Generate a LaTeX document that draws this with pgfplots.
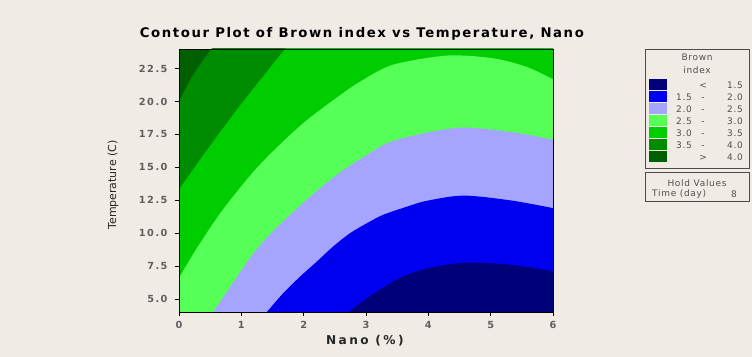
\documentclass[border=0pt]{standalone}
\usepackage{pgfplots}
\pgfplotsset{compat=1.18}
\usepackage{fontspec}
\setmainfont{DejaVu Sans}
\newfontfamily\titlefont[LetterSpace=12]{DejaVu Sans}
\newfontfamily\tickfont[LetterSpace=15]{DejaVu Sans}
\newfontfamily\labfont[LetterSpace=20]{DejaVu Sans}
\newfontfamily\legfont[LetterSpace=8]{DejaVu Sans}
\definecolor{bg}{RGB}{240,235,229}
\definecolor{c1}{RGB}{0,0,120}
\definecolor{c2}{RGB}{0,0,240}
\definecolor{c3}{RGB}{165,165,255}
\definecolor{c4}{RGB}{85,255,85}
\definecolor{c5}{RGB}{0,205,0}
\definecolor{c6}{RGB}{0,140,0}
\definecolor{c7}{RGB}{0,95,0}
\definecolor{tickgray}{RGB}{95,95,95}
\definecolor{legtext}{RGB}{80,80,80}
\begin{document}
\begin{tikzpicture}
\fill[bg] (-179bp,-45bp) rectangle (573bp,312bp);
\begin{axis}[
  at={(0,0)}, anchor=south west,
  scale only axis, width=374bp, height=263bp,
  xmin=0, xmax=6, ymin=4, ymax=24,
  xtick={0,1,2,3,4,5,6},
  ytick={5,7.5,10,12.5,15,17.5,20,22.5},
  /pgf/number format/assume math mode=true,
  yticklabel={\pgfmathprintnumber[fixed,fixed zerofill,precision=1]{\tick}},
  tick align=outside, xtick pos=bottom, ytick pos=left,
  major tick length=4bp,
  tick style={black, line width=0.6pt},
  axis line style={black, line width=0.8pt},
  ticklabel style={font=\tickfont\bfseries\fontsize{9.8}{11}\selectfont, text=tickgray},
  xticklabel style={yshift=-2bp},
  yticklabel style={xshift=-4bp},
  title={Contour Plot of Brown index vs Temperature, Nano},
  title style={font=\titlefont\bfseries\fontsize{13.3}{15}\selectfont, at={(axis description cs:0.489,1.034)}, anchor=center, yshift=0pt},
  xlabel={Nano (\%)},
  xlabel style={font=\labfont\bfseries\fontsize{12.2}{13}\selectfont, text=black!85, at={(axis description cs:0.497,-0.11)}, anchor=center},
  ylabel={Temperature (C)},
  ylabel style={font=\fontsize{11}{12}\selectfont, text=black!85, at={(axis description cs:-0.176,0.483)}, anchor=center},
  axis on top,
]
% > 4.0
\addplot[fill=c7, draw=none] coordinates {(0,4) (6,4) (6,24) (0,24)} -- cycle;
% < 4.0
\addplot[fill=c6, draw=none, smooth] coordinates {(-0.3,17.4) (-0.15,18.7) (0,20.0) (0.15,21.4) (0.32,22.7) (0.52,24) (0.66,24.9) (0.8,25.8) (7,26.5) (7,3) (-1,3)} -- cycle;
% < 3.5
\addplot[fill=c5, draw=none, smooth] coordinates {(-0.25,11.9) (-0.12,12.5) (0,13.3) (0.25,15.0) (0.60,17.3) (0.98,19.7) (1.38,22.1) (1.70,24) (1.85,24.9) (2.0,25.8) (7,26.5) (7,3) (-1,3)} -- cycle;
% < 3.0
\addplot[fill=c4, draw=none, smooth] coordinates {(-0.2,5.0) (-0.1,5.8) (0,6.6) (0.28,8.8) (0.66,11.5) (1.11,14.2) (1.46,16.0) (1.99,18.35) (2.53,20.3) (2.9,21.5) (3.43,22.8) (4.3,23.5) (5.03,23.3) (5.57,22.65) (6,21.7) (6.2,21.2) (6.4,20.6) (7,20) (7,3) (-1,3)} -- cycle;
% < 2.5
\addplot[fill=c3, draw=none, smooth] coordinates {(0.42,3.0) (0.485,3.5) (0.55,4) (0.92,6.6) (1.2,8.5) (1.46,9.9) (1.83,11.6) (2.21,13.2) (2.58,14.6) (2.9,15.6) (3.43,17.0) (4.45,18.0) (5.3,17.7) (6,17.1) (6.2,16.85) (6.4,16.55) (7,16) (7,2) (0.3,2)} -- cycle;
% < 2.0
\addplot[fill=c2, draw=none, smooth] coordinates {(1.23,3.0) (1.32,3.5) (1.41,4) (1.67,5.42) (1.94,6.68) (2.21,7.83) (2.47,8.97) (2.74,9.98) (3.01,10.74) (3.27,11.38) (3.65,12.0) (3.97,12.45) (4.56,12.85) (5.3,12.5) (6,11.9) (6.2,11.65) (6.4,11.35) (7,11) (7,2) (1,2)} -- cycle;
% < 1.5
\addplot[fill=c1, draw=none, smooth] coordinates {(2.45,3.0) (2.58,3.5) (2.72,4) (3.0,5.0) (3.43,6.3) (3.7,6.9) (3.97,7.3) (4.56,7.75) (5.3,7.6) (6,7.1) (6.2,6.9) (6.4,6.65) (7,6.3) (7,2) (2.2,2)} -- cycle;
\end{axis}
% legend
\draw[black!70, line width=0.6pt] (466bp,144bp) rectangle (570bp,263bp);
\node[font=\legfont\fontsize{9}{10}\selectfont, text=legtext] at (518bp,255bp) {Brown};
\node[font=\legfont\fontsize{9}{10}\selectfont, text=legtext] at (518bp,242bp) {index};
\foreach \i/\c/\a/\b/\d in {0/c1//{<}/1.5, 1/c2/1.5/-/2.0, 2/c3/2.0/-/2.5, 3/c4/2.5/-/3.0, 4/c5/3.0/-/3.5, 5/c6/3.5/-/4.0, 6/c7//{>}/4.0}{
  \pgfmathsetmacro{\yt}{312-79.3-12*\i}
  \pgfmathsetmacro{\yb}{312-90.3-12*\i}
  \pgfmathsetmacro{\ym}{312-88.3-12*\i}
  \fill[\c] (470bp,\yt bp) rectangle (488bp,\yb bp);
  \node[font=\legfont\fontsize{9}{10}\selectfont, text=legtext, anchor=base east, inner sep=0pt] at (513bp,\ym bp) {\a};
  \node[font=\legfont\fontsize{9}{10}\selectfont, text=legtext, anchor=base, inner sep=0pt] at (524bp,\ym bp) {\b};
  \node[font=\legfont\fontsize{9}{10}\selectfont, text=legtext, anchor=base east, inner sep=0pt] at (564bp,\ym bp) {\d};
}
\draw[black!70, line width=0.6pt] (466bp,111bp) rectangle (570bp,140bp);
\node[font=\legfont\fontsize{9}{10}\selectfont, text=legtext] at (518bp,129bp) {Hold Values};
\node[font=\legfont\fontsize{9}{10}\selectfont, text=legtext, anchor=west, inner sep=0pt] at (473bp,118bp) {Time (day)};
\node[font=\legfont\fontsize{9}{10}\selectfont, text=legtext] at (555bp,118bp) {8};
\pgfresetboundingbox
\useasboundingbox (-179bp,-45bp) rectangle (573bp,312bp);
\end{tikzpicture}
\end{document}
